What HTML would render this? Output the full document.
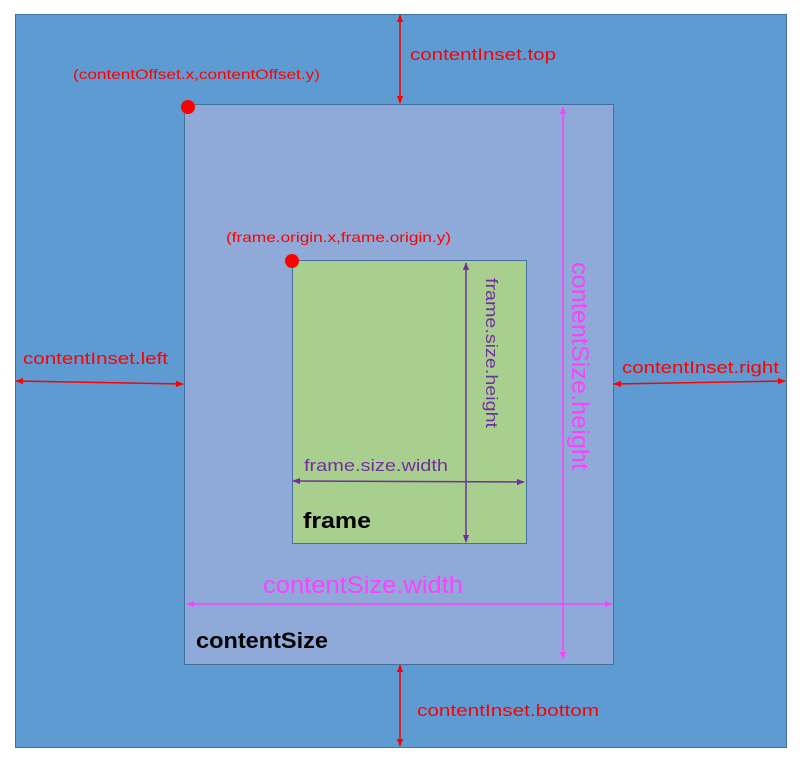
<!DOCTYPE html>
<html><head><meta charset="utf-8"><style>html,body{margin:0;padding:0;background:#fff}svg{display:block}</style></head>
<body>
<svg width="800" height="760" xmlns="http://www.w3.org/2000/svg" font-family="Liberation Sans, sans-serif">
<defs>
<marker id="r" viewBox="0 0 10 10" refX="9" refY="5" markerWidth="8" markerHeight="8" orient="auto-start-reverse" markerUnits="userSpaceOnUse"><path d="M0,1 L10,5 L0,9z" fill="#ff0000"/></marker>
<marker id="m" viewBox="0 0 10 10" refX="9" refY="5" markerWidth="8" markerHeight="8" orient="auto-start-reverse" markerUnits="userSpaceOnUse"><path d="M0,1 L10,5 L0,9z" fill="#ff40ff"/></marker>
<marker id="p" viewBox="0 0 10 10" refX="9" refY="5" markerWidth="8" markerHeight="8" orient="auto-start-reverse" markerUnits="userSpaceOnUse"><path d="M0,1 L10,5 L0,9z" fill="#7030a0"/></marker>
</defs>
<rect x="15.5" y="14.5" width="771" height="733" fill="#5e9bd2" stroke="#41719c"/>
<rect x="184.5" y="104.5" width="429" height="560" fill="#8faad9" stroke="#41719c"/>
<rect x="292.5" y="260.5" width="234" height="283" fill="#a9cf8e" stroke="#41719c"/>
<g stroke="#ff0000" stroke-width="1.5" fill="none">
<line x1="400" y1="15" x2="400" y2="103" marker-start="url(#r)" marker-end="url(#r)"/>
<line x1="400" y1="665" x2="400" y2="746" marker-start="url(#r)" marker-end="url(#r)"/>
<line x1="16" y1="381" x2="183" y2="384" marker-start="url(#r)" marker-end="url(#r)"/>
<line x1="614" y1="384" x2="785" y2="381" marker-start="url(#r)" marker-end="url(#r)"/>
</g>
<g stroke="#ff40ff" stroke-width="1.5">
<line x1="187" y1="604" x2="612" y2="604" marker-start="url(#m)" marker-end="url(#m)"/>
<line x1="563" y1="107" x2="563" y2="659" marker-start="url(#m)" marker-end="url(#m)"/>
</g>
<g stroke="#7030a0" stroke-width="1.5">
<line x1="293" y1="481" x2="524" y2="482" marker-start="url(#p)" marker-end="url(#p)"/>
<line x1="466" y1="263" x2="466" y2="542" marker-start="url(#p)" marker-end="url(#p)"/>
</g>
<circle cx="188" cy="107" r="7" fill="#ff0000"/>
<circle cx="292" cy="261" r="7" fill="#ff0000"/>
<g fill="#ff0000">
<text x="410" y="60" font-size="17" textLength="146" lengthAdjust="spacingAndGlyphs">contentInset.top</text>
<text x="73" y="79" font-size="14" textLength="247" lengthAdjust="spacingAndGlyphs">(contentOffset.x,contentOffset.y)</text>
<text x="226" y="242" font-size="14" textLength="225" lengthAdjust="spacingAndGlyphs">(frame.origin.x,frame.origin.y)</text>
<text x="23" y="364" font-size="17" textLength="145" lengthAdjust="spacingAndGlyphs">contentInset.left</text>
<text x="622" y="373" font-size="17" textLength="157" lengthAdjust="spacingAndGlyphs">contentInset.right</text>
<text x="417" y="716" font-size="17" textLength="182" lengthAdjust="spacingAndGlyphs">contentInset.bottom</text>
</g>
<g fill="#7030a0">
<text x="304" y="471" font-size="17" textLength="144" lengthAdjust="spacingAndGlyphs">frame.size.width</text>
<text transform="translate(486,278) rotate(90)" font-size="17" textLength="150" lengthAdjust="spacingAndGlyphs">frame.size.height</text>
</g>
<g fill="#ff40ff">
<text x="263" y="593" font-size="24" textLength="200" lengthAdjust="spacingAndGlyphs">contentSize.width</text>
<text transform="translate(572,262) rotate(90)" font-size="24" textLength="208" lengthAdjust="spacingAndGlyphs">contentSize.height</text>
</g>
<text x="303" y="528" font-size="22" font-weight="bold" fill="#000" textLength="68" lengthAdjust="spacingAndGlyphs">frame</text>
<text x="196" y="648" font-size="22" font-weight="bold" fill="#000" textLength="132" lengthAdjust="spacingAndGlyphs">contentSize</text>
</svg>
</body></html>
